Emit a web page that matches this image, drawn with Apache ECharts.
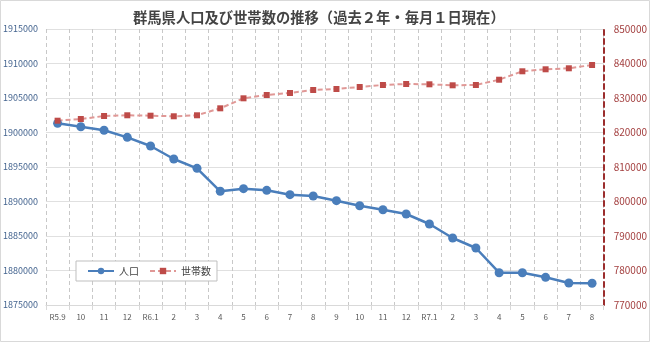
<!DOCTYPE html>
<html>
<head>
<meta charset="utf-8">
<script src="https://cdn.jsdelivr.net/npm/echarts@6/dist/echarts.min.js"></script>
<style>
html,body{margin:0;padding:0;background:#fff;}
#c{width:650px;height:342px;}
</style>
</head>
<body>
<div id="c"></div>
<script>
const categories = ['R5.9','10','11','12','R6.1','2','3','4','5','6','7','8','9','10','11','12','R7.1','2','3','4','5','6','7','8'];
const population = [1901330,1900840,1900320,1899300,1898040,1896160,1894810,1891480,1891860,1891620,1890990,1890800,1890120,1889390,1888810,1888190,1886740,1884710,1883260,1879680,1879680,1879010,1878190,1878150];
const households = [823420,823910,824780,824990,824870,824700,824990,827010,829910,830870,831450,832320,832610,833190,833770,834060,833970,833680,833770,835300,837740,838320,838610,839570];
const seriesNames = ['人口','世帯数'];
const titleText = '群馬県人口及び世帯数の推移（過去２年・毎月１日現在）';

const chart = echarts.init(document.getElementById('c'), null, {renderer:'canvas'});
chart.setOption({
  animation:false,
  backgroundColor:'#fff',
  textStyle:{fontFamily:'"Noto Sans CJK JP","Noto Sans",sans-serif'},
  title:{
    text:titleText, left:128, top:5,
    textStyle:{fontSize:14.3,fontWeight:'bold',color:'#444',fontFamily:'"Noto Sans CJK JP",sans-serif'}
  },
  graphic:[{type:'rect',shape:{x:0.5,y:0.5,width:649,height:341},style:{fill:null,stroke:'#d9d9d9',lineWidth:1},silent:true,z:-1}],
  legend:{
    orient:'horizontal',
    left:76, top:261,
    padding:[5,6,5,11],
    itemGap:10,
    borderColor:'#bfbfbf', borderWidth:1, backgroundColor:'#fff',
    itemWidth:26, itemHeight:8,
    textStyle:{fontSize:10,color:'#444'},
    data:seriesNames
  },
  grid:{left:45,right:44,top:29,bottom:37,containLabel:false},
  xAxis:{
    type:'category', data:categories, boundaryGap:true,
    axisLine:{lineStyle:{color:'#d9d9d9'}},
    axisTick:{show:true,lineStyle:{color:'#d9d9d9'}},
    axisLabel:{fontSize:8,color:'#595959',margin:8,interval:0},
    splitLine:{show:true,lineStyle:{color:'#c8c8c8',type:[4,3]}}
  },
  yAxis:[{
    type:'value', min:1875000, max:1915000, interval:5000,
    axisLine:{show:false}, axisTick:{show:false},
    axisLabel:{fontSize:9,color:'#44648f',margin:8,formatter:function(v){return String(v);}},
    splitLine:{show:true,lineStyle:{color:'#e0e0e0'}}
  },{
    type:'value', min:770000, max:850000, interval:10000, position:'right',
    axisLine:{show:true,lineStyle:{color:'#9b2d2d',width:2,type:[5,4]}},
    axisTick:{show:false},
    axisLabel:{fontSize:10,color:'#a33f3f',margin:10,formatter:function(v){return String(v);}},
    splitLine:{show:false}
  }],
  series:[{
    name:seriesNames[0], type:'line', yAxisIndex:0, data:population,
    symbol:'circle', symbolSize:9,
    itemStyle:{color:'#4a7ebb'},
    lineStyle:{color:'#4a7ebb',width:2.5}
  },{
    name:seriesNames[1], type:'line', yAxisIndex:1, data:households,
    symbol:'rect', symbolSize:6,
    itemStyle:{color:'#be4b48'},
    lineStyle:{color:'#e09896',width:2,type:[5,3]}
  }]
});
</script>
</body>
</html>
